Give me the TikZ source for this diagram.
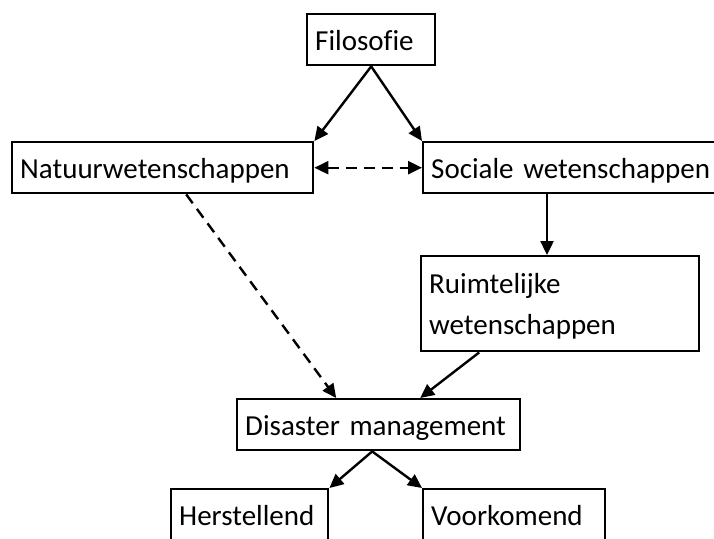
\documentclass[tikz,border=0pt]{standalone}
\usepackage{fontspec}
\setmainfont{Carlito}[Ligatures=NoCommon]
\usetikzlibrary{arrows.meta,positioning,calc}

\begin{document}
\begin{tikzpicture}[
	x=1pt, y=-1pt,
	>={Triangle[length=14pt,width=13pt]},
	box/.style={rectangle, draw, line width=2.4pt, anchor=north west, inner xsep=8pt, inner ysep=0pt, align=left, font=\fontsize{29}{41}\selectfont},
	onebox/.style={box, text height=36pt, text depth=15pt},
	link/.style={->, line width=2.4pt},
	weak/.style={link, dash pattern=on 11pt off 7pt}
	]
	
	% page frame
	\clip (0,0) rectangle (714,538);
	
	% top level
	\node[onebox, text width=112pt] (fil) at (306,13) {Filosofie};
	
	% sciences
	\node[onebox, text width=285pt] (nat) at (11,141) {Natuurwetenschappen};
	\node[onebox, text width=300pt] (soc) at (422,141) {Sociale wetenschappen};
	\node[box, text width=262pt] (ruim) at (420,255) {\rule{0pt}{37pt}Ruimtelijke\\wetenschappen\rule[-17pt]{0pt}{17pt}};
	
	% disaster management and its two branches
	\node[onebox, text width=267pt] (dis) at (236,398) {Disaster management};
	\node[onebox, text width=141pt] (her) at (170,488) {Herstellend};
	\node[onebox, text width=166pt] (voor) at (422,488) {Voorkomend};
	
	% connectors
	\coordinate (drop) at (547,0);
	\draw[link] (fil.south) -- (nat.north east);
	\draw[link] (fil.south) -- (soc.north west);
	\draw[weak, <->] (nat.east) -- (soc.west);
	\draw[link] (soc.south -| drop) -- (ruim.north -| drop);
	\draw[weak] ([xshift=23.5pt]nat.south) -- ([xshift=-42.5pt]dis.north);
	\draw[link] ([xshift=-81pt]ruim.south) -- ([xshift=41.5pt]dis.north);
	\draw[link] ([xshift=-6.5pt]dis.south) -- (her.north east);
	\draw[link] ([xshift=-6.5pt]dis.south) -- (voor.north west);
	
\end{tikzpicture}
\end{document}
